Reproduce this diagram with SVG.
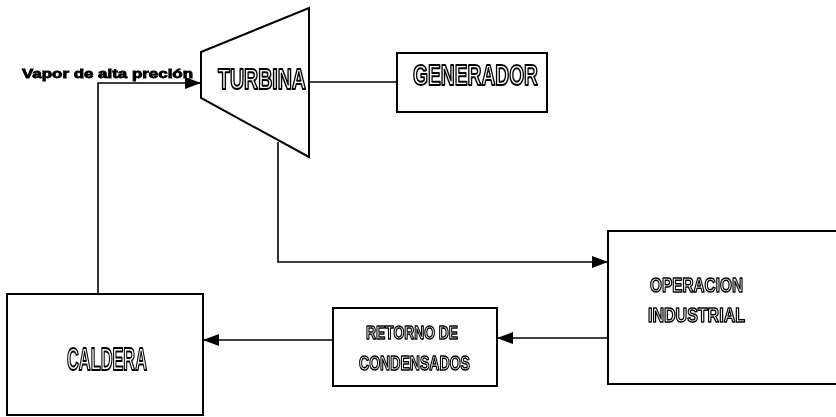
<svg xmlns="http://www.w3.org/2000/svg" width="836" height="417" viewBox="0 0 836 417">
  <style>
    .box { fill: #fff; stroke: #000; stroke-width: 2; }
    .wire { fill: none; stroke: #000; stroke-width: 1.6; }
    .lbl { font-family: "Liberation Sans", Arial, sans-serif; font-weight: bold; fill: #fff; stroke: #000; stroke-width: 2; stroke-linejoin: round; filter: url(#mono); }
    .sm { stroke-width: 1.5; }
    .note { font-family: "Liberation Sans", Arial, sans-serif; font-weight: bold; fill: #000; stroke: #000; stroke-width: 0.8; filter: url(#mono); }
  </style>
  <defs>
    <!-- render label text in plain greyscale -->
    <filter id="mono" x="-5%" y="-20%" width="110%" height="140%">
      <feColorMatrix type="saturate" values="0"/>
    </filter>
    <marker id="arrow" viewBox="0 0 16 12" refX="16" refY="6" markerWidth="16" markerHeight="12" markerUnits="userSpaceOnUse" orient="auto">
      <path d="M0,0 L16,6 L0,12 Z" fill="#000"/>
    </marker>
  </defs>

  <rect width="836" height="417" fill="#fff"/>

  <!-- connectors -->
  <g id="connectors">
    <!-- steam from boiler to turbine -->
    <polyline class="wire" points="98,294 98,83 201,83" marker-end="url(#arrow)"/>
    <!-- turbine shaft to generator -->
    <line class="wire" x1="309" y1="82" x2="397" y2="82"/>
    <!-- turbine exhaust to industrial operation -->
    <polyline class="wire" points="278,142 278,262 608,262" marker-end="url(#arrow)"/>
    <!-- industrial operation to condensate return -->
    <line class="wire" x1="608" y1="338" x2="497" y2="338" marker-end="url(#arrow)"/>
    <!-- condensate return to boiler -->
    <line class="wire" x1="333" y1="340" x2="203" y2="340" marker-end="url(#arrow)"/>
  </g>

  <text class="note" x="22" y="78" font-size="12" textLength="171" lengthAdjust="spacingAndGlyphs">Vapor de alta preción</text>

  <g id="turbina">
    <polygon class="box" points="201,52 309,8 309,157 201,98"/>
    <text class="lbl" x="218" y="89" font-size="29" textLength="88" lengthAdjust="spacingAndGlyphs">TURBINA</text>
  </g>

  <g id="generador">
    <rect class="box" x="397" y="53" width="150" height="59"/>
    <text class="lbl" x="413" y="85" font-size="29" textLength="125" lengthAdjust="spacingAndGlyphs">GENERADOR</text>
  </g>

  <g id="operacion">
    <rect class="box" x="608" y="231" width="240" height="153"/>
    <text class="lbl sm" x="650" y="292" font-size="20" textLength="93" lengthAdjust="spacingAndGlyphs">OPERACION</text>
    <text class="lbl sm" x="648" y="322" font-size="20" textLength="97" lengthAdjust="spacingAndGlyphs">INDUSTRIAL</text>
  </g>

  <g id="retorno">
    <rect class="box" x="333" y="308" width="164" height="78"/>
    <text class="lbl sm" x="366" y="339" font-size="19" textLength="92" lengthAdjust="spacingAndGlyphs">RETORNO DE</text>
    <text class="lbl sm" x="359" y="370" font-size="20" textLength="111" lengthAdjust="spacingAndGlyphs">CONDENSADOS</text>
  </g>

  <g id="caldera">
    <rect class="box" x="7" y="294" width="196" height="121"/>
    <text class="lbl" x="67" y="370" font-size="31" textLength="80" lengthAdjust="spacingAndGlyphs">CALDERA</text>
  </g>
</svg>
